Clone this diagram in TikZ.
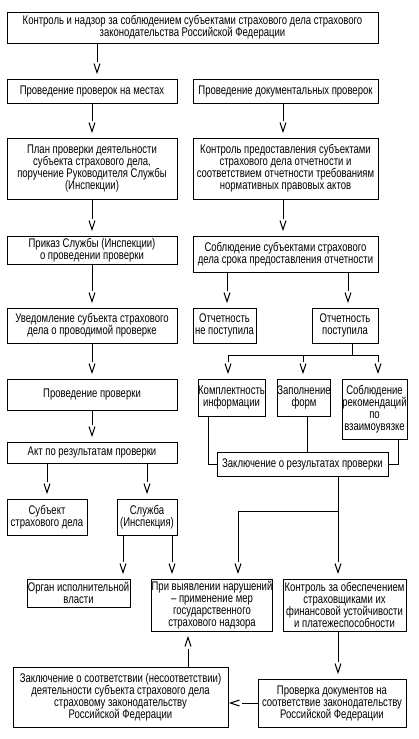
\documentclass[tikz,border=0pt]{standalone}
\usepackage{fontspec}
\setmainfont{Liberation Sans}[FakeStretch=0.76]
\pgfdeclarearrow{
  name = VGlyph,
  setup code = {
    \pgfarrowssettipend{0pt}
    \pgfarrowssetlineend{-8.25pt}
    \pgfarrowssetvisualbackend{-6.75pt}
    \pgfarrowssetbackend{-6.75pt}
    \pgfarrowsupperhullpoint{-6.75pt}{2.25pt}
    \pgfarrowsupperhullpoint{0pt}{0pt}
  },
  drawing code = {
    \pgfpathmoveto{\pgfqpoint{-6.75pt}{2.25pt}}
    \pgfpathlineto{\pgfqpoint{0pt}{0pt}}
    \pgfpathlineto{\pgfqpoint{-6.75pt}{-2.25pt}}
    \pgfusepathqstroke
  }
}
\newcommand\bxnode[6]{%
  \node[box, minimum width={(#4-#2)*0.75pt}, minimum height={(#5-#3)*0.75pt}] (#1) at ({(#2+#4)/2},{(#3+#5)/2}) {#6};}
\begin{document}
\begin{tikzpicture}[x=0.75pt,y=-0.75pt,
  box/.style={draw,line width=0.75pt,inner sep=0pt,align=center,font=\fontsize{9.4}{9}\selectfont},
  ln/.style={line width=0.75pt},
  arr/.style={ln,arrows={-VGlyph},shorten >=4.5pt},
  arrs/.style={ln,arrows={-VGlyph},shorten >=1.5pt}]
\fill[white] (0,0) rectangle (418,739);
\useasboundingbox (0,0) rectangle (418,739);

\bxnode{top}{7}{12}{378}{43}{Контроль и надзор за соблюдением субъектами страхового дела страхового\\законодательства Российской Федерации}
\bxnode{mest}{7}{79}{177}{103}{Проведение проверок на местах}
\bxnode{doc}{193}{79}{378}{103}{Проведение документальных проверок}
\bxnode{plan}{7}{138}{177}{199}{План проверки деятельности\\субъекта страхового дела,\\поручение Руководителя Службы\\(Инспекции)}
\bxnode{kontr}{193}{138}{378}{199}{Контроль предоставления субъектами\\страхового дела отчетности и\\соответствием отчетности требованиям\\нормативных правовых актов}
\bxnode{prikaz}{7}{236}{177}{264}{Приказ Службы (Инспекции)\\о проведении проверки}
\bxnode{sobl}{193}{236}{378}{272}{Соблюдение субъектами страхового\\дела срока предоставления отчетности}
\bxnode{uved}{7}{308}{177}{343}{Уведомление субъекта страхового\\дела о проводимой проверке}
\bxnode{nepost}{193}{308}{256}{343}{Отчетность\\не поступила}
\bxnode{post}{312}{308}{378}{343}{Отчетность\\поступила}
\bxnode{pp}{7}{379}{177}{410}{Проведение проверки}
\bxnode{kompl}{198}{379}{265}{416}{Комплектность\\информации}
\bxnode{zapoln}{278}{379}{330}{416}{Заполнение\\форм}
\bxnode{rek}{342}{379}{407}{439}{Соблюдение\\рекомендаций\\по\\взаимоувязке}
\bxnode{akt}{7}{442}{177}{463}{Акт по результатам проверки}
\bxnode{zakl}{217}{452}{388}{476}{Заключение о результатах проверки}
\bxnode{subj}{7}{499}{87}{535}{Субъект\\страхового дела}
\bxnode{sluzh}{117}{499}{177}{535}{Служба\\(Инспекция)}
\bxnode{organ}{27}{579}{130}{607}{Орган исполнительной\\власти}
\bxnode{pri}{153}{579}{271}{631}{При выявлении нарушений\\– применение мер\\государственного\\страхового надзора}
\bxnode{kfin}{283}{579}{406}{631}{Контроль за обеспечением\\страховщиками их\\финансовой устойчивости\\и платежеспособности}
\bxnode{zsoot}{13}{667}{228}{727}{Заключение о соответствии (несоответствии)\\деятельности субъекта страхового дела\\страховому законодательству\\Российской Федерации}
\bxnode{prov}{258}{679}{406}{727}{Проверка документов на\\соответствие законодательству\\Российской Федерации}

\coordinate (x97) at (97,0);
\coordinate (x283) at (283,0);
\coordinate (x227) at (227,0);
\coordinate (x348) at (348,0);
\coordinate (x208) at (208,0);
\coordinate (x307) at (307,0);
\coordinate (x398) at (398,0);
\coordinate (x338) at (338,0);
\coordinate (x123) at (123,0);
\coordinate (x172) at (172,0);
\coordinate (x188) at (188,0);
\coordinate (b352) at (352,355);
\coordinate (b228) at (228,355);
\coordinate (b303) at (303,355);
\coordinate (b378) at (378,355);
\coordinate (b2a) at (338,511);
\coordinate (b2b) at (238,511);

\draw[arr] (top.south -| x97) -- (mest.north -| x97);
\draw[arr] (mest.south) -- (plan.north);
\draw[arr] (doc.south -| x283) -- (kontr.north -| x283);
\draw[arr] (plan.south) -- (prikaz.north);
\draw[arr] (kontr.south -| x283) -- (sobl.north -| x283);
\draw[arr] (prikaz.south) -- (uved.north);
\draw[arr] (sobl.south -| x227) -- (nepost.north -| x227);
\draw[arr] (sobl.south -| x348) -- (post.north -| x348);
\draw[arr] (uved.south) -- (pp.north);
\draw[ln] (post.south -| b352) -- (b352);
\draw[ln] (b228) -- (b378);
\draw[arr] (b228) -- (kompl.north -| b228);
\draw[arr] (b303) -- (zapoln.north -| b303);
\draw[arr] (b378) -- (rek.north -| b378);
\draw[arr] (pp.south) -- (akt.north);
\draw[ln] (kompl.south -| x208) |- (zakl.west);
\draw[ln] (zapoln.south -| x307) -- (zakl.north -| x307);
\draw[ln] (rek.south -| x398) |- (zakl.east);
\draw[arr] (akt.south -| subj.north) -- (subj.north);
\draw[arr] (akt.south -| sluzh.north) -- (sluzh.north);
\draw[arr] (sluzh.south -| x123) -- (organ.north -| x123);
\draw[arr] (sluzh.south -| x172) -- (pri.north -| x172);
\draw[arr] (zakl.south -| x338) -- (kfin.north -| x338);
\draw[arr] (b2a) -| (pri.north -| b2b);
\draw[arr] (kfin.south -| x338) -- (prov.north -| x338);
\draw[arrs] (prov.west) -- (prov.west -| zsoot.east);
\draw[arr] (zsoot.north -| x188) -- (pri.south -| x188);
\end{tikzpicture}
\end{document}
